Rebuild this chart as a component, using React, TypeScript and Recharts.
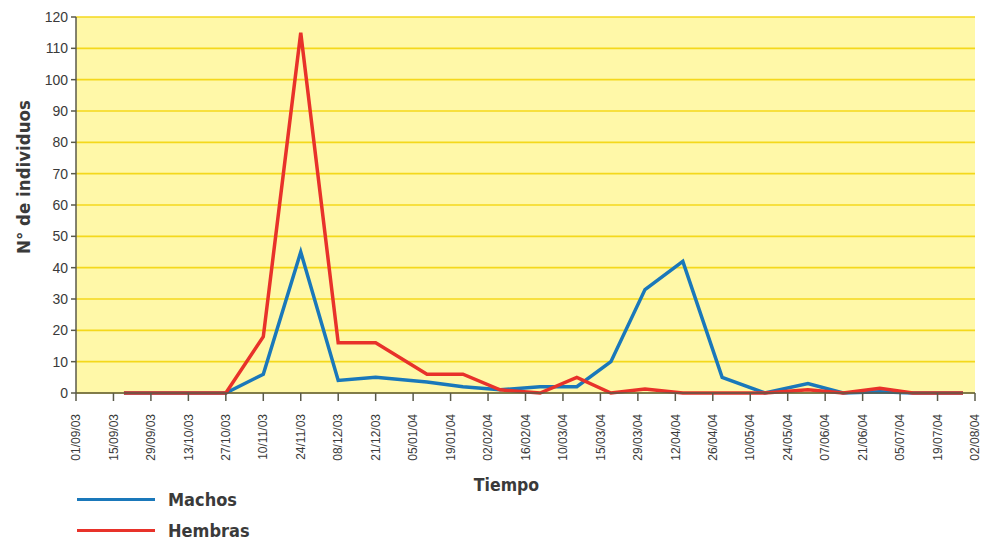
import React from 'react';
import { LineChart, Line, XAxis, YAxis, CartesianGrid, Legend } from 'recharts';

// x positions expressed in tick-index units (0 = 01/09/03 ... 24 = 02/08/04)
const positions = [1.28, 4, 5, 6, 7, 8, 9.37, 10.33, 11.32, 12.39, 13.37, 14.28, 15.19, 16.2, 17.25, 18.39, 19.54, 20.48, 21.46, 22.34, 23.68];
const machos = [0, 0, 6, 45, 4, 5, 3.5, 2, 1, 2, 2, 10, 33, 42, 5, 0, 3, 0, 0.4, 0, 0];
const hembras = [0, 0, 18, 115, 16, 16, 6, 6, 1, 0, 5, 0, 1.3, 0, 0, 0, 1, 0, 1.5, 0, 0];

const tickLabels = [
  '01/09/03', '15/09/03', '29/09/03', '13/10/03', '27/10/03', '10/11/03', '24/11/03',
  '08/12/03', '21/12/03', '05/01/04', '19/01/04', '02/02/04', '16/02/04', '10/03/04',
  '15/03/04', '29/03/04', '12/04/04', '26/04/04', '10/05/04', '24/05/04', '07/06/04',
  '21/06/04', '05/07/04', '19/07/04', '02/08/04',
];
const yTicks = [0, 10, 20, 30, 40, 50, 60, 70, 80, 90, 100, 110, 120];
const legendOrder = ['Machos', 'Hembras'];

const data = positions.map((x, i) => ({ x, machos: machos[i], hembras: hembras[i] }));
const xTicks = tickLabels.map((_, i) => i);

const BLUE = '#1a78ba';
const RED = '#e8322a';
const TEXT = '#3a3a3a';
const AXIS = '#5a5a4a';
const BOLD_FONT = '"Liberation Sans Narrow", "DejaVu Sans Condensed", "Liberation Sans", Arial, sans-serif';
const FONT = '"Liberation Sans", Arial, sans-serif';

const XTick = (props: any) => {
  const { x, y, payload } = props;
  const ay = y + 11;
  return (
    <text
      x={x}
      y={ay}
      transform={`rotate(-90, ${x}, ${ay})`}
      textAnchor="end"
      dy="0.35em"
      fontSize={12}
      fontFamily={FONT}
      fill={TEXT}
    >
      {tickLabels[payload.value]}
    </text>
  );
};

const XLabel = (props: any) => {
  const vb = props.viewBox;
  return (
    <text
      x={vb.x + vb.width / 2 - 19}
      y={vb.y + 98}
      textAnchor="middle"
      fontSize={17.5}
      fontWeight="bold"
      fontFamily={BOLD_FONT}
      fill={TEXT}
    >
      Tiempo
    </text>
  );
};

const YLabel = (props: any) => {
  const vb = props.viewBox;
  const cx = vb.x + 24;
  const cy = vb.y + vb.height / 2 - 28;
  return (
    <text
      x={cx}
      y={cy}
      transform={`rotate(-90, ${cx}, ${cy})`}
      textAnchor="middle"
      dy="0.35em"
      fontSize={18.5}
      fontWeight="bold"
      fontFamily={BOLD_FONT}
      fill={TEXT}
    >
      N° de individuos
    </text>
  );
};

const LegendContent = (props: any) => {
  const payload = [...(props.payload || [])].sort(
    (a: any, b: any) => legendOrder.indexOf(a.value) - legendOrder.indexOf(b.value)
  );
  return (
    <div style={{ display: 'flex', flexDirection: 'column' }}>
      {payload.map((entry: any) => (
        <div key={entry.value} style={{ display: 'flex', alignItems: 'center', height: 31 }}>
          <div style={{ width: 78, height: 3, background: entry.color, marginRight: 13 }} />
          <span
            style={{
              fontFamily: BOLD_FONT,
              fontWeight: 'bold',
              fontSize: 18,
              color: TEXT,
              lineHeight: '31px',
            }}
          >
            {entry.value}
          </span>
        </div>
      ))}
    </div>
  );
};

export default function App() {
  return (
    <div style={{ position: 'absolute', left: 0, top: 0, width: 981, height: 541, background: '#fff' }}>
      <LineChart width={981} height={541} data={data} margin={{ top: 17, right: 6, bottom: 0, left: 0 }}>
        <CartesianGrid vertical={false} stroke="#f4d81c" strokeWidth={1.6} fill="#fff8a8" />
        <XAxis
          type="number"
          dataKey="x"
          domain={[0, 24]}
          ticks={xTicks}
          interval={0}
          height={148}
          tick={<XTick />}
          tickSize={8}
          stroke={AXIS}
          tickLine={{ stroke: AXIS, strokeWidth: 1.5 }}
          axisLine={{ stroke: AXIS, strokeWidth: 1.5 }}
          label={<XLabel />}
        />
        <YAxis
          type="number"
          domain={[0, 120]}
          ticks={yTicks}
          interval={0}
          width={76}
          tickSize={5}
          tickMargin={3}
          stroke={AXIS}
          tick={{ fill: TEXT, fontSize: 14, fontFamily: FONT }}
          tickLine={{ stroke: AXIS, strokeWidth: 1.5 }}
          axisLine={{ stroke: AXIS, strokeWidth: 1.5 }}
          label={<YLabel />}
        />
        <Legend
          layout="vertical"
          align="center"
          verticalAlign="middle"
          content={<LegendContent />}
          wrapperStyle={{ left: 77, top: 484, width: 250, height: 62 }}
        />
        <Line
          type="linear"
          dataKey="machos"
          name="Machos"
          stroke={BLUE}
          strokeWidth={3.5}
          dot={false}
          activeDot={false}
          isAnimationActive={false}
        />
        <Line
          type="linear"
          dataKey="hembras"
          name="Hembras"
          stroke={RED}
          strokeWidth={3.5}
          dot={false}
          activeDot={false}
          isAnimationActive={false}
        />
      </LineChart>
    </div>
  );
}
